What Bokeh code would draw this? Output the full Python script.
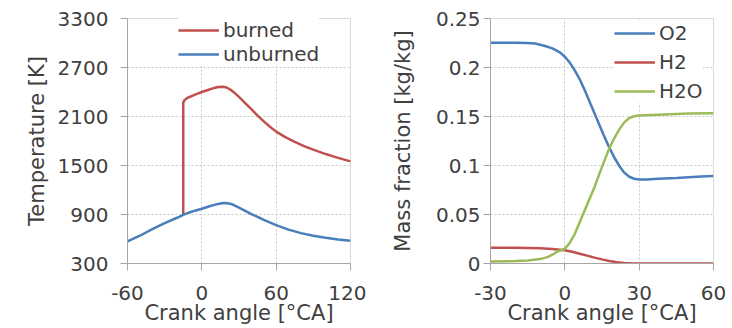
from bokeh.plotting import figure
from bokeh.layouts import row
from bokeh.models import Range1d, FixedTicker, Legend, LegendItem
from bokeh.embed import file_html
from bokeh.resources import INLINE

# ---- Left panel data: temperatures [K] vs crank angle [deg CA]
burned_ca = [-15, -15, -14, -12, -9, -5, 0, 5, 10, 13, 17, 20, 23, 26, 30, 35, 40, 45,
             50, 55, 60, 67, 75, 83, 91, 100, 108, 115, 120]
burned_T = [900, 2270, 2300, 2325, 2345, 2370, 2400, 2425, 2450, 2462, 2465, 2455, 2430,
            2395, 2340, 2265, 2190, 2110, 2040, 1975, 1915, 1850, 1790, 1735, 1688, 1640,
            1603, 1572, 1550]
unburned_ca = [-60, -50, -40, -30, -20, -15, -10, -5, 0, 5, 10, 15, 18, 21, 25, 30, 35, 40,
               45, 50, 60, 70, 80, 90, 100, 110, 120]
unburned_T = [570, 640, 720, 795, 860, 895, 925, 950, 970, 995, 1018, 1035, 1040, 1037,
              1022, 985, 945, 905, 870, 835, 770, 715, 672, 640, 615, 595, 580]
left_xticks = [-60, 0, 60, 120]
left_xlabels = {-60: "-60", 0: "0", 60: "60", 120: "120"}
left_yticks = [300, 900, 1500, 2100, 2700, 3300]

# ---- Right panel data: mass fractions [kg/kg]
o2_ca = [-30, -20, -15, -12, -8, -5, -2, 0, 2, 4, 6, 8, 10, 12, 14, 16, 18, 20, 22, 24,
         26, 28, 30, 33, 36, 40, 45, 50, 55, 60]
o2_y = [0.2253, 0.2253, 0.2250, 0.2245, 0.2220, 0.2195, 0.2155, 0.2110, 0.2050, 0.1970,
        0.1880, 0.1770, 0.1650, 0.1530, 0.1410, 0.1290, 0.1180, 0.1080, 0.0995, 0.0927,
        0.0885, 0.0865, 0.0857, 0.0857, 0.0862, 0.0867, 0.0873, 0.0880, 0.0887, 0.0893]
h2_ca = [-30, -20, -10, -5, 0, 3, 6, 9, 12, 15, 18, 21, 24, 27, 30, 40, 50, 60]
h2_y = [0.0160, 0.0160, 0.0155, 0.0148, 0.0136, 0.0120, 0.0100, 0.0080, 0.0060, 0.0042,
        0.0025, 0.0012, 0.0004, 0.0001, 0.0, 0.0, 0.0, 0.0]
h2o_ca = [-30, -20, -15, -10, -7, -5, -3, -1, 0, 2, 4, 6, 8, 10, 12, 14, 16, 18, 20, 22,
          24, 26, 28, 30, 35, 40, 50, 60]
h2o_y = [0.0020, 0.0025, 0.0030, 0.0045, 0.0065, 0.0090, 0.0123, 0.0140, 0.0150, 0.0210,
         0.0300, 0.0420, 0.0540, 0.0660, 0.0780, 0.0920, 0.1050, 0.1180, 0.1280, 0.1370,
         0.1440, 0.1485, 0.1502, 0.1510, 0.1515, 0.1520, 0.1530, 0.1534]
right_xticks = [-30, 0, 30, 60]
right_xlabels = {-30: "-30", 0: "0", 30: "30", 60: "60"}
right_yticks = [0, 0.05, 0.1, 0.15, 0.2, 0.25]
right_ylabels = {0: "0", 0.05: "0.05", 0.1: "0.1", 0.15: "0.15", 0.2: "0.2", 0.25: "0.25"}

RED = "#c0504d"
BLUE = "#4a7ebb"
GREEN = "#9bbb59"
TXT = "#404040"
FONT = "DejaVu Sans"


def style(p, xticks, yticks, ytick_standoff, ylabel_standoff):
    p.outline_line_color = "#d9d9d9"
    p.background_fill_color = "white"
    p.border_fill_color = "white"
    for ax in (p.xaxis[0], p.yaxis[0]):
        ax.axis_line_color = "#a6a6a6"
        ax.major_tick_line_color = "#a6a6a6"
        ax.major_tick_out = 7
        ax.major_tick_in = 0
        ax.minor_tick_line_color = None
        ax.major_label_text_font = FONT
        ax.major_label_text_font_size = "20px"
        ax.major_label_text_color = TXT
        ax.axis_label_text_font = FONT
        ax.axis_label_text_font_size = "21px"
        ax.axis_label_text_color = TXT
        ax.axis_label_text_font_style = "normal"
    p.xaxis[0].ticker = FixedTicker(ticks=xticks)
    p.yaxis[0].ticker = FixedTicker(ticks=yticks)
    p.xaxis[0].major_label_standoff = 15
    p.xaxis[0].axis_label_standoff = -2
    p.yaxis[0].major_label_standoff = ytick_standoff
    p.yaxis[0].axis_label_standoff = ylabel_standoff
    p.xgrid[0].ticker = FixedTicker(ticks=xticks)
    p.ygrid[0].ticker = FixedTicker(ticks=yticks)
    for g in (p.xgrid[0], p.ygrid[0]):
        g.grid_line_color = "#c8c8c8"
        g.grid_line_dash = "2 2"
        g.grid_line_width = 1


def style_legend(lg):
    lg.label_text_font = FONT
    lg.label_text_font_size = "20px"
    lg.label_text_color = TXT
    lg.glyph_width = 41
    lg.glyph_height = 20
    lg.label_standoff = 4
    lg.label_height = 20
    lg.margin = 0
    lg.border_line_color = None
    lg.background_fill_color = "white"
    lg.background_fill_alpha = 1.0


# ---- Left figure
p1 = figure(width=366, height=328, output_backend="svg", toolbar_location=None,
            x_range=Range1d(-60, 120), y_range=Range1d(300, 3300),
            min_border_left=127, min_border_right=16, min_border_top=18, min_border_bottom=65,
            x_axis_label="Crank angle [°CA]", y_axis_label="Temperature [K]")
r_b = p1.line(burned_ca, burned_T, line_color=RED, line_width=2.5)
r_u = p1.line(unburned_ca, unburned_T, line_color=BLUE, line_width=2.5)
style(p1, left_xticks, left_yticks, 12, 6)
p1.xaxis[0].major_label_overrides = left_xlabels
lg1 = Legend(items=[LegendItem(label="burned", renderers=[r_b]),
                    LegendItem(label="unburned", renderers=[r_u])],
             location=(51, 197), padding=0, spacing=0)
style_legend(lg1)
p1.add_layout(lg1)

# ---- Right figure
p2 = figure(width=366, height=328, output_backend="svg", toolbar_location=None,
            x_range=Range1d(-30, 60), y_range=Range1d(0, 0.25),
            min_border_left=124, min_border_right=19, min_border_top=18, min_border_bottom=65,
            x_axis_label="Crank angle [°CA]", y_axis_label="Mass fraction [kg/kg]")
r_o2 = p2.line(o2_ca, o2_y, line_color=BLUE, line_width=2.5)
r_h2 = p2.line(h2_ca, h2_y, line_color=RED, line_width=2.5)
r_h2o = p2.line(h2o_ca, h2o_y, line_color=GREEN, line_width=2.5)
style(p2, right_xticks, right_yticks, 3, 18)
p2.xaxis[0].major_label_overrides = right_xlabels
p2.yaxis[0].major_label_overrides = right_ylabels
lg2 = Legend(items=[LegendItem(label="O2", renderers=[r_o2]),
                    LegendItem(label="H2", renderers=[r_h2]),
                    LegendItem(label="H2O", renderers=[r_h2o])],
             location=(124, 160), padding=3, spacing=5)
style_legend(lg2)
p2.add_layout(lg2)

layout = row(p1, p2)
open("out.html", "w").write(file_html(layout, INLINE))
